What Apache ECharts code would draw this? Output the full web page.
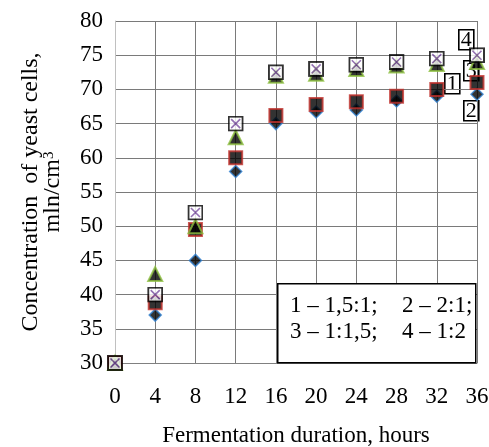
<!DOCTYPE html>
<html>
<head>
<meta charset="utf-8">
<script src="https://cdn.jsdelivr.net/npm/echarts@6/dist/echarts.min.js"></script>
<style>
  html, body { margin: 0; padding: 0; background: #fff; }
  #chart { width: 489px; height: 447px; }
</style>
</head>
<body>
<div id="chart"></div>
<script>
var hours = [0, 4, 8, 12, 16, 20, 24, 28, 32, 36];
var ratio1 = [30, 38.8, 49.5, 60, 66.2, 67.8, 68.2, 69, 70, 71];
var ratio2 = [30, 37, 45, 58, 65, 66.7, 67, 68.3, 69, 69.3];
var ratio3 = [30, 43, 50, 63, 72, 72.3, 73, 73.5, 73.7, 74];
var ratio4 = [30, 40, 52, 65, 72.5, 73, 73.6, 74, 74.5, 75];

var FONT = '"Liberation Serif", "Times New Roman", serif';

function pairs(ys) {
  return hours.map(function (h, i) { return [h, ys[i]]; });
}

// square with a purple cross, used for ratio 1:2
var xBoxSvg = '<svg xmlns="http://www.w3.org/2000/svg" width="16" height="16" viewBox="0 0 16 16">' +
  '<rect x="1" y="1" width="14" height="14" fill="#ffffff" stroke="#000000" stroke-width="2"/>' +
  '<path d="M3.5 3.5 L12.5 12.5 M12.5 3.5 L3.5 12.5" stroke="#7a4fa0" stroke-width="1.6"/>' +
  '</svg>';
var xBoxSymbol = 'image://data:image/svg+xml;charset=utf-8,' + encodeURIComponent(xBoxSvg);

function numBox(label, x, y) {
  return {
    type: 'group', left: x, top: y, z: 5,
    children: [
      { type: 'rect', shape: { x: 0, y: 0, width: 15, height: 20 },
        style: { fill: '#fff', stroke: '#000', lineWidth: 1.6 } },
      { type: 'text', x: 7.5, y: 10.5,
        style: { text: label, font: '22px ' + FONT, fill: '#000', align: 'center', verticalAlign: 'middle' } }
    ]
  };
}

var chart = echarts.init(document.getElementById('chart'));
var option = {
  animation: false,
  grid: { left: 115, right: 12, top: 21, bottom: 84, containLabel: false, outerBoundsMode: 'none' },
  xAxis: {
    type: 'value', min: 0, max: 36, interval: 4,
    name: 'Fermentation duration, hours',
    nameLocation: 'middle', nameGap: 61,
    nameTextStyle: { fontFamily: FONT, fontSize: 23, color: '#000' },
    axisLine: { lineStyle: { color: '#808080' } },
    axisTick: { show: false },
    axisLabel: { fontFamily: FONT, fontSize: 23, color: '#000', margin: 22 },
    splitLine: { show: true, lineStyle: { color: '#7a7a7a', width: 1 } }
  },
  yAxis: {
    type: 'value', min: 30, max: 80, interval: 5,
    name: '{a|Concentration  of yeast cells,}\n{a|mln/cm}{s|3}',
    nameLocation: 'middle', nameGap: 51, nameRotate: 90,
    nameTextStyle: {
      fontFamily: FONT, fontSize: 24, color: '#000', lineHeight: 22,
      rich: {
        a: { fontFamily: FONT, fontSize: 24, color: '#000', lineHeight: 22 },
        s: { fontFamily: FONT, fontSize: 15, color: '#000', verticalAlign: 'top', padding: [0, 0, 9, 0] }
      }
    },
    axisLine: { show: true, lineStyle: { color: '#c0c0c0' } },
    axisTick: { show: false },
    axisLabel: { fontFamily: FONT, fontSize: 23, color: '#000', margin: 12 },
    splitLine: { show: true, lineStyle: { color: '#7a7a7a', width: 1 } }
  },
  series: [
    { name: '2', type: 'scatter', data: pairs(ratio2), symbol: 'diamond', symbolSize: 12,
      itemStyle: { color: '#000', borderColor: '#2f7fd0', borderWidth: 1.5 } },
    { name: '1', type: 'scatter', data: pairs(ratio1), symbol: 'rect', symbolSize: 13,
      itemStyle: { color: '#000', borderColor: '#c0302a', borderWidth: 2 } },
    { name: '3', type: 'scatter', data: pairs(ratio3), symbol: 'triangle', symbolSize: 14,
      itemStyle: { color: '#000', borderColor: '#8cbf3f', borderWidth: 2 } },
    { name: '4', type: 'scatter', data: pairs(ratio4), symbol: xBoxSymbol, symbolSize: 16 }
  ],
  graphic: [
    { type: 'rect', left: 277, top: 283, z: 4,
      shape: { width: 198, height: 79 },
      style: { fill: '#fff', stroke: '#000', lineWidth: 1.5 } },
    { type: 'text', left: 290, top: 294, z: 5, style: { text: '1 – 1,5:1;', font: '23px ' + FONT, fill: '#000' } },
    { type: 'text', left: 402, top: 294, z: 5, style: { text: '2 – 2:1;', font: '23px ' + FONT, fill: '#000' } },
    { type: 'text', left: 290, top: 320, z: 5, style: { text: '3 – 1:1,5;', font: '23px ' + FONT, fill: '#000' } },
    { type: 'text', left: 402, top: 320, z: 5, style: { text: '4 – 1:2', font: '23px ' + FONT, fill: '#000' } },
    numBox('4', 458, 29),
    numBox('3', 463, 60),
    numBox('1', 444, 73),
    numBox('2', 463, 100)
  ]
};
chart.setOption(option);
</script>
</body>
</html>
